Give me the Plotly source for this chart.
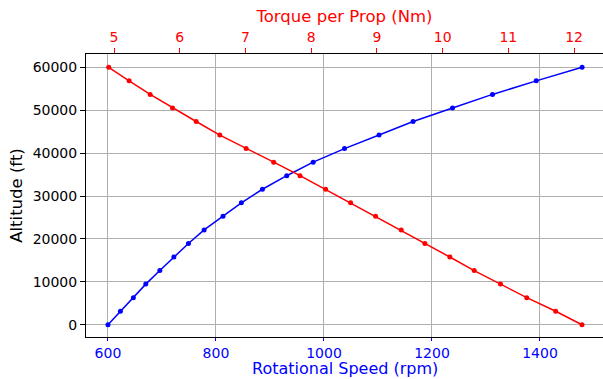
import plotly.graph_objects as go

# altitude samples (ft), ascending
altitude_ft = [0, 3158, 6316, 9474, 12632, 15789, 18947, 22105, 25263, 28421,
               31579, 34737, 37895, 41053, 44211, 47368, 50526, 53684, 56842, 60000]
# rotational speed (rpm) at each altitude
rpm = [600, 623, 647, 670, 696, 722, 749, 778, 813, 847,
       886, 931, 980, 1038, 1102, 1165, 1238, 1312, 1393, 1478]
# torque per prop (Nm) at each altitude
torque_nm = [12.12, 11.72, 11.28, 10.88, 10.48, 10.11, 9.73, 9.37, 8.98, 8.60,
             8.22, 7.83, 7.43, 7.01, 6.61, 6.25, 5.89, 5.55, 5.23, 4.92]
rpm_ticks = [600, 800, 1000, 1200, 1400]
torque_ticks = [5, 6, 7, 8, 9, 10, 11, 12]
alt_ticks = [0, 10000, 20000, 30000, 40000, 50000, 60000]

FONT = "DejaVu Sans"
TICK = 14.0
TITLE = 16.5
fig = go.Figure()
fig.add_trace(go.Scatter(x=rpm, y=altitude_ft, mode="lines+markers",
                         line=dict(color="#0000ff", width=1.5),
                         marker=dict(color="#0000ff", size=5),
                         xaxis="x", yaxis="y", showlegend=False))
fig.add_trace(go.Scatter(x=torque_nm, y=altitude_ft, mode="lines+markers",
                         line=dict(color="#ff0000", width=1.5),
                         marker=dict(color="#ff0000", size=5),
                         xaxis="x2", yaxis="y", showlegend=False))

fig.update_layout(
    width=603, height=379,
    margin=dict(l=86, r=0, t=54, b=42),
    paper_bgcolor="white", plot_bgcolor="white",
    font=dict(family=FONT, size=TICK, color="black"),
    xaxis=dict(range=[559.3, 1516.7], tickvals=rpm_ticks, ticktext=[str(v) for v in rpm_ticks],
               showgrid=True, gridcolor="#b0b0b0", gridwidth=0.8, zeroline=False,
               showline=True, linecolor="black", linewidth=1,
               ticks="outside", ticklen=3, tickcolor="#0000ff", automargin=False,
               tickfont=dict(color="#0000ff", size=TICK, family=FONT)),
    xaxis2=dict(range=[4.574, 12.44], overlaying="x", side="top", anchor="y",
                tickvals=torque_ticks, ticktext=[str(v) for v in torque_ticks],
                showgrid=False, zeroline=False, automargin=False,
                showline=True, linecolor="black", linewidth=1,
                ticks="outside", ticklen=5, tickcolor="#ff0000",
                tickfont=dict(color="#ff0000", size=TICK, family=FONT),
                title=dict(text="Torque per Prop (Nm)", font=dict(color="#ff0000", size=TITLE, family=FONT), standoff=2)),
    yaxis=dict(range=[-2850, 63100], tickvals=alt_ticks, ticktext=[str(v) for v in alt_ticks],
               showgrid=True, gridcolor="#b0b0b0", gridwidth=0.8, zeroline=False,
               showline=True, linecolor="black", linewidth=1, automargin=False,
               ticks="outside", ticklen=5, tickcolor="black",
               tickfont=dict(color="black", size=TICK, family=FONT),
               title=dict(text="Altitude (ft)", font=dict(color="black", size=TITLE, family=FONT), standoff=5)),
    annotations=[dict(text="Rotational Speed (rpm)", xref="paper", yref="paper",
                      x=0.5, y=0, xanchor="center", yanchor="bottom", yshift=-42,
                      borderpad=0, showarrow=False,
                      font=dict(color="#0000ff", size=16, family=FONT))],
)
fig.write_html("out.html")
